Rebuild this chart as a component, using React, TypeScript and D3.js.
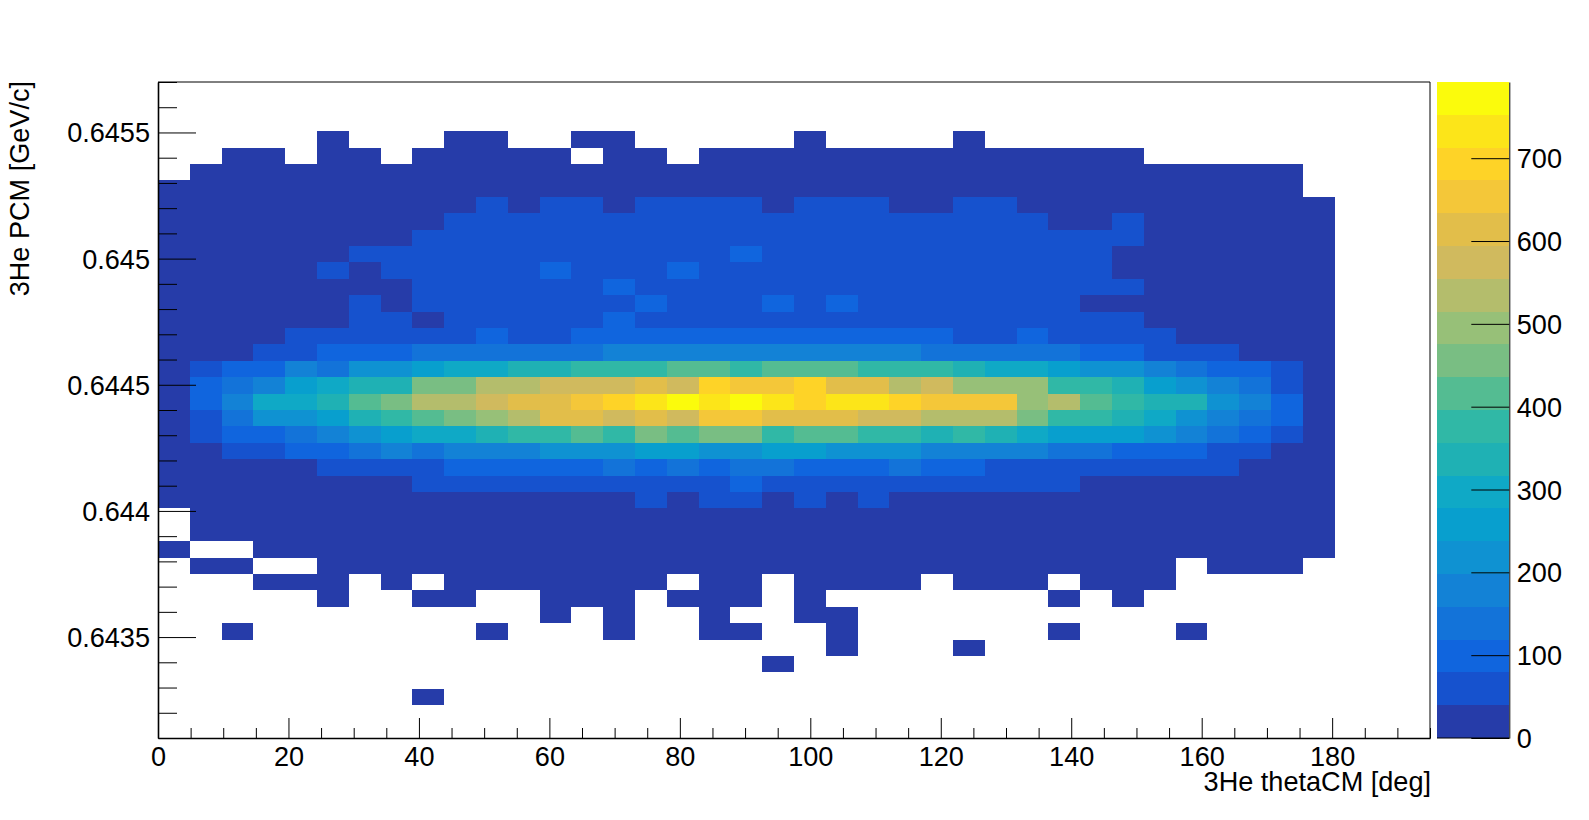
import * as d3 from 'd3';
import React, { FC, useEffect } from 'react';

// ROOT TH2 drawn with COLZ, 40 x 40 bins. Rows run from the top of the frame down, 0 = empty bin.
const xRange = [0, 195];
const yRange = [0.6431, 0.6457];
const zMax = 792;
const xMajor = [0, 20, 40, 60, 80, 100, 120, 140, 160, 180];
const yMajor = [0.6435, 0.644, 0.6445, 0.645, 0.6455];
const yLabels = ['0.6435', '0.644', '0.6445', '0.645', '0.6455'];
const zMajor = [0, 100, 200, 300, 400, 500, 600, 700];

const palette = [
	'#263ca9', '#1652ce', '#1065de', '#1373d9', '#1382d6',
	'#0f92d2', '#089fce', '#0fa9c6', '#1fb1b4', '#30b8a6',
	'#54bc92', '#79be83', '#97c078', '#b4bd6c', '#d0ba5e',
	'#e2be4a', '#f4c739', '#fed327', '#fce519', '#fbfb0c',
];

const counts: number[][] = [
	[0,0,0,0,0,0,0,0,0,0, 0,0,0,0,0,0,0,0,0,0, 0,0,0,0,0,0,0,0,0,0, 0,0,0,0,0,0,0,0,0,0],
	[0,0,0,0,0,0,0,0,0,0, 0,0,0,0,0,0,0,0,0,0, 0,0,0,0,0,0,0,0,0,0, 0,0,0,0,0,0,0,0,0,0],
	[0,0,0,0,0,0,0,0,0,0, 0,0,0,0,0,0,0,0,0,0, 0,0,0,0,0,0,0,0,0,0, 0,0,0,0,0,0,0,0,0,0],
	[0,0,0,0,0,2,0,0,0,2, 2,0,0,2,2,0,0,0,0,0, 2,0,0,0,0,2,0,0,0,0, 0,0,0,0,0,0,0,0,0,0],
	[0,0,4,4,0,4,4,0,4,4, 4,4,4,0,4,4,0,4,4,4, 4,4,4,4,4,4,4,4,4,4, 4,0,0,0,0,0,0,0,0,0],
	[0,12,12,12,12,12,12,12,12,12, 12,12,12,12,12,12,12,12,12,12, 12,12,12,12,12,12,12,12,12,12, 12,12,12,12,12,12,0,0,0,0],
	[20,20,20,20,20,20,20,20,20,20, 20,20,20,20,20,20,20,20,20,20, 20,20,20,20,20,20,20,20,20,20, 20,20,20,20,20,20,0,0,0,0],
	[25,25,25,25,25,25,25,25,25,25, 50,25,50,50,25,50,50,50,50,25, 50,50,50,25,25,50,50,25,25,25, 25,25,25,25,25,25,25,0,0,0],
	[30,30,30,30,30,30,30,30,30,55, 55,55,55,55,55,55,55,55,55,55, 55,55,55,55,55,55,55,55,30,30, 55,30,30,30,30,30,30,0,0,0],
	[30,30,30,30,30,30,30,30,60,60, 60,60,60,60,60,60,60,60,60,60, 60,60,60,60,60,60,60,60,60,60, 60,30,30,30,30,30,30,0,0,0],
	[32,32,32,32,32,32,62,62,62,62, 62,62,62,62,62,62,62,62,85,62, 62,62,62,62,62,62,62,62,62,62, 32,32,32,32,32,32,32,0,0,0],
	[32,32,32,32,32,60,35,62,62,62, 62,62,85,62,62,62,85,62,62,62, 62,62,62,62,62,62,62,62,62,62, 32,32,32,32,32,32,32,0,0,0],
	[32,32,32,32,32,32,32,32,62,62, 62,62,62,62,85,62,62,62,62,62, 62,62,62,62,62,62,62,62,62,62, 60,32,32,32,32,32,32,0,0,0],
	[30,30,30,30,30,30,55,35,62,62, 62,62,62,62,62,85,62,62,62,85, 62,85,62,62,62,62,62,62,62,36, 30,30,30,30,30,30,30,0,0,0],
	[30,30,30,30,30,30,55,55,35,62, 62,62,62,62,85,62,62,62,62,62, 62,62,62,62,62,62,62,62,62,62, 55,30,30,30,30,30,30,0,0,0],
	[30,30,30,30,60,60,60,60,60,60, 85,65,65,90,90,90,90,90,90,90, 90,90,90,90,90,70,70,85,65,65, 60,60,30,30,30,30,30,0,0,0],
	[30,30,35,65,70,90,95,100,130,130, 135,135,135,135,175,175,175,175,175,175, 175,175,175,175,135,135,135,135,130,100, 95,70,65,60,35,30,30,0,0,0],
	[20,59,99,99,178,139,218,218,257,297, 297,337,337,376,376,376,416,416,376,416, 416,416,376,376,376,337,297,297,257,218, 218,178,139,99,99,59,20,0,0,0],
	[20,99,139,178,257,297,337,337,455,455, 535,535,574,574,574,614,574,693,653,653, 693,614,614,535,574,495,495,495,376,376, 337,257,218,178,139,59,20,0,0,0],
	[20,99,178,297,297,337,416,455,535,535, 574,614,614,653,693,733,772,733,772,733, 693,733,733,693,653,653,653,495,535,416, 376,337,337,218,178,99,20,0,0,0],
	[20,59,139,218,218,257,337,376,416,455, 495,535,614,614,574,614,574,653,653,614, 614,614,574,574,535,535,535,455,376,376, 337,297,218,178,139,99,20,0,0,0],
	[20,59,99,99,139,178,218,257,297,297, 337,376,376,416,376,455,416,455,455,376, 416,416,376,376,337,376,337,297,257,257, 257,218,178,139,99,59,20,0,0,0],
	[20,20,59,59,99,99,139,178,139,178, 178,178,218,218,218,257,257,218,218,257, 257,218,218,218,178,178,178,178,139,139, 99,99,99,59,59,20,20,0,0,0],
	[20,20,20,20,20,59,59,59,59,99, 99,99,99,99,139,99,139,99,139,139, 99,99,99,139,99,99,59,59,59,59, 59,59,59,59,20,20,20,0,0,0],
	[20,20,20,20,20,20,20,20,59,59, 59,59,59,59,59,59,59,59,85,59, 59,59,59,59,59,59,59,59,59,20, 20,20,20,20,20,20,20,0,0,0],
	[20,20,20,20,20,20,20,20,20,20, 20,20,20,20,20,50,35,50,50,35, 50,35,50,20,20,20,20,20,20,20, 20,20,20,20,20,20,20,0,0,0],
	[0,15,15,15,15,15,15,15,15,15, 15,15,15,15,15,15,15,15,15,15, 15,15,15,15,15,15,15,15,15,15, 15,15,15,15,15,15,15,0,0,0],
	[0,10,10,10,10,10,10,10,10,10, 10,10,10,10,10,10,10,10,10,10, 10,10,10,10,10,10,10,10,10,10, 10,10,10,10,10,10,10,0,0,0],
	[2,0,0,6,6,6,6,6,6,6, 6,6,6,6,6,6,6,6,6,6, 6,6,6,6,6,6,6,6,6,6, 6,6,6,6,6,6,6,0,0,0],
	[0,2,2,0,0,4,4,4,4,4, 4,4,4,4,4,4,4,4,4,4, 4,4,4,4,4,4,4,4,4,4, 4,4,0,2,2,2,0,0,0,0],
	[0,0,0,2,2,2,0,2,0,3, 3,3,3,3,3,3,0,3,3,0, 3,3,3,3,0,3,3,3,0,2, 2,2,0,0,0,0,0,0,0,0],
	[0,0,0,0,0,1,0,0,1,1, 0,0,1,1,1,0,1,1,1,0, 1,0,0,0,0,0,0,0,1,0, 1,0,0,0,0,0,0,0,0,0],
	[0,0,0,0,0,0,0,0,0,0, 0,0,1,0,1,0,0,1,0,0, 1,1,0,0,0,0,0,0,0,0, 0,0,0,0,0,0,0,0,0,0],
	[0,0,1,0,0,0,0,0,0,0, 1,0,0,0,1,0,0,1,1,0, 0,1,0,0,0,0,0,0,1,0, 0,0,1,0,0,0,0,0,0,0],
	[0,0,0,0,0,0,0,0,0,0, 0,0,0,0,0,0,0,0,0,0, 0,1,0,0,0,1,0,0,0,0, 0,0,0,0,0,0,0,0,0,0],
	[0,0,0,0,0,0,0,0,0,0, 0,0,0,0,0,0,0,0,0,1, 0,0,0,0,0,0,0,0,0,0, 0,0,0,0,0,0,0,0,0,0],
	[0,0,0,0,0,0,0,0,0,0, 0,0,0,0,0,0,0,0,0,0, 0,0,0,0,0,0,0,0,0,0, 0,0,0,0,0,0,0,0,0,0],
	[0,0,0,0,0,0,0,0,1,0, 0,0,0,0,0,0,0,0,0,0, 0,0,0,0,0,0,0,0,0,0, 0,0,0,0,0,0,0,0,0,0],
	[0,0,0,0,0,0,0,0,0,0, 0,0,0,0,0,0,0,0,0,0, 0,0,0,0,0,0,0,0,0,0, 0,0,0,0,0,0,0,0,0,0],
	[0,0,0,0,0,0,0,0,0,0, 0,0,0,0,0,0,0,0,0,0, 0,0,0,0,0,0,0,0,0,0, 0,0,0,0,0,0,0,0,0,0],
];

const App: FC = () => {
	const svgRef = React.useRef<SVGSVGElement>(null);
	const width = 1589;
	const height = 820;
	const frame = { left: 158, right: 1430, top: 82, bottom: 738 };
	const pal = { left: 1437, right: 1509.3 };
	const font = '"Liberation Sans", Arial, sans-serif';
	const fontSize = 27.1;

	useEffect(() => {
		const svg = d3.select(svgRef.current as SVGSVGElement);
		svg.selectAll('*').remove();

		const x = d3.scaleLinear().domain(xRange).range([frame.left, frame.right]);
		const y = d3.scaleLinear().domain(yRange).range([frame.bottom, frame.top]);
		const z = d3.scaleLinear().domain([0, zMax]).range([frame.bottom, frame.top]);
		const color = d3.scaleQuantize<string>().domain([0, zMax]).range(palette);

		const nBins = counts.length;
		const xBin = (xRange[1] - xRange[0]) / nBins;
		const yBin = (yRange[1] - yRange[0]) / nBins;
		const cells = counts.flatMap((row, r) =>
			row.map((v, c) => ({ v, c, r })).filter(d => d.v > 0)
		);

		svg.append('g')
			.attr('shape-rendering', 'crispEdges')
			.selectAll('rect')
			.data(cells)
			.join('rect')
			.attr('x', d => x(xRange[0] + d.c * xBin))
			.attr('y', d => y(yRange[1] - d.r * yBin))
			.attr('width', d => x(xRange[0] + (d.c + 1) * xBin) - x(xRange[0] + d.c * xBin))
			.attr('height', d => y(yRange[1] - (d.r + 1) * yBin) - y(yRange[1] - d.r * yBin))
			.attr('fill', d => color(d.v));

		// frame top/right is thinner than the axes
		svg.append('path')
			.attr('d', `M${frame.left},${frame.top}H${frame.right}V${frame.bottom}`)
			.attr('fill', 'none')
			.attr('stroke', '#000')
			.attr('stroke-width', 1);

		const styleAxis = (g: any, anchor: string) => {
			g.select('.domain').attr('stroke-width', 1.6);
			g.selectAll('.tick line').attr('stroke-width', 1);
			g.selectAll('text')
				.attr('font-family', font)
				.attr('font-size', fontSize)
				.attr('fill', '#000')
				.attr('text-anchor', anchor);
		};

		// x axis, ticks point inwards
		const xMinor = d3.range(0, 196, 5).filter(t => !xMajor.includes(t));
		svg.append('g')
			.attr('transform', `translate(0,${frame.bottom})`)
			.call(d3.axisBottom(x).tickValues(xMinor).tickSize(-10).tickFormat(() => '').tickSizeOuter(0) as any);
		const xg = svg.append('g').attr('transform', `translate(0,${frame.bottom})`);
		xg.call(d3.axisBottom(x).tickValues(xMajor).tickSize(-20).tickPadding(8).tickSizeOuter(0) as any);
		xg.selectAll('text').attr('dy', '0.71em').attr('y', 9);
		styleAxis(xg, 'middle');

		// y axis
		const yMinor = d3.range(0, 26)
			.map(i => 0.6432 + i * 0.0001)
			.filter(t => !yMajor.some(m => Math.abs(m - t) < 1e-6));
		svg.append('g')
			.attr('transform', `translate(${frame.left},0)`)
			.call(d3.axisRight(y).tickValues(yMinor).tickSize(19).tickFormat(() => '').tickSizeOuter(0) as any);
		const yg = svg.append('g').attr('transform', `translate(${frame.left},0)`);
		yg.call(d3.axisRight(y).tickValues(yMajor).tickSize(38).tickSizeOuter(0).tickFormat((_: any, i: number) => yLabels[i]) as any);
		yg.selectAll('text').attr('x', -8).attr('dy', '0.35em');
		styleAxis(yg, 'end');

		// colour palette
		svg.append('g')
			.attr('shape-rendering', 'crispEdges')
			.selectAll('rect')
			.data(palette)
			.join('rect')
			.attr('x', pal.left)
			.attr('width', pal.right - pal.left)
			.attr('y', (_, i) => z(((i + 1) * zMax) / palette.length))
			.attr('height', z(0) - z(zMax / palette.length))
			.attr('fill', d => d);

		const zg = svg.append('g').attr('transform', `translate(${pal.right},0)`);
		zg.call(d3.axisRight(z).tickValues(zMajor).tickSize(-38).tickSizeOuter(0) as any);
		zg.selectAll('text').attr('x', 7.5).attr('dy', '0.35em');
		styleAxis(zg, 'start');
		zg.select('.domain').attr('stroke-width', 1);
		svg.append('line')
			.attr('x1', pal.left)
			.attr('x2', pal.right)
			.attr('y1', frame.bottom)
			.attr('y2', frame.bottom)
			.attr('stroke', '#000')
			.attr('stroke-width', 1);

		// axis titles
		svg.append('text')
			.attr('x', frame.right + 1)
			.attr('y', 791)
			.attr('text-anchor', 'end')
			.attr('font-family', font)
			.attr('font-size', fontSize)
			.text('3He thetaCM [deg]');
		svg.append('text')
			.attr('transform', `translate(28.5,${frame.top - 1}) rotate(-90)`)
			.attr('text-anchor', 'end')
			.attr('font-family', font)
			.attr('font-size', fontSize)
			.text('3He PCM [GeV/c]');
	}, []);

	return (
		<svg
			ref={svgRef}
			width={width}
			height={height}
			viewBox={`0 0 ${width} ${height}`}
			style={{ position: 'absolute', left: 0, top: 0, background: '#fff' }}
		/>
	);
};

export default App;
